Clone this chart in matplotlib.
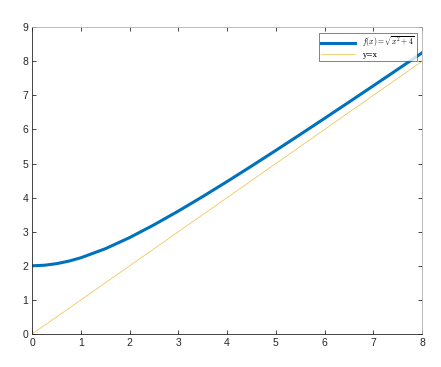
import numpy as np
import matplotlib
matplotlib.use("Agg")
import matplotlib.pyplot as plt

plt.rcParams['mathtext.fontset'] = 'cm'
plt.rcParams['font.family'] = ['Liberation Sans', 'DejaVu Sans']

# values
x_vals = [0, 0.25, 0.5, 0.75, 1, 1.5, 2, 2.5, 3, 3.5, 4, 4.5, 5, 5.5, 6, 6.5, 7, 7.5, 8]
f_vals = [2.0, 2.016, 2.062, 2.136, 2.236, 2.5, 2.828, 3.202, 3.606, 4.031,
          4.472, 4.924, 5.385, 5.852, 6.325, 6.801, 7.280, 7.762, 8.246]
line_x = [0, 8]
line_y = [0, 8]

xticks = [0, 1, 2, 3, 4, 5, 6, 7, 8]
yticks = [0, 1, 2, 3, 4, 5, 6, 7, 8, 9]

fig = plt.figure(figsize=(4.41, 3.67), dpi=100)
ax = fig.add_axes([0.073, 0.09, 0.884, 0.836])

ax.plot(x_vals, f_vals, color='#0072BD', lw=2.2, label=r'$f(x)=\sqrt{x^2+4}$')
ax.plot(line_x, line_y, color='#EDB120', lw=0.5, alpha=0.85, label='y=x')

ax.set_xlim(0, 8)
ax.set_ylim(0, 9)
ax.set_xticks(xticks)
ax.set_yticks(yticks)
ax.tick_params(direction='in', length=3, width=0.6, labelsize=7.5, colors='#262626',
               top=True, right=True, pad=3)
for s in ['left', 'bottom']:
    ax.spines[s].set_color('#262626')
    ax.spines[s].set_linewidth(0.6)
for s in ['top', 'right']:
    ax.spines[s].set_color('#b0b0b0')
    ax.spines[s].set_linewidth(0.6)

leg = ax.legend(loc='upper right', prop={'family': 'DejaVu Serif', 'size': 5.5},
                frameon=True, fancybox=False, borderaxespad=0.7, handlelength=4.5,
                borderpad=0.3, labelspacing=0.2)
leg.get_frame().set_edgecolor('#262626')
leg.get_frame().set_linewidth(0.5)

fig.savefig('out.png', dpi=100)
